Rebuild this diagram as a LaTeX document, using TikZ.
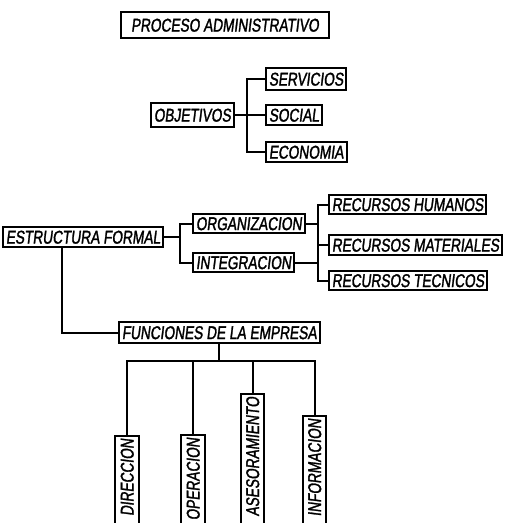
\documentclass[tikz,border=0pt]{standalone}
\usepackage{fontspec}
\newfontfamily\handfont{Liberation Sans}[FakeSlant=0.12,FakeStretch=0.74,FakeBold=1.5]
\usetikzlibrary{positioning}

\begin{document}
\begin{tikzpicture}[x=1pt, y=-1pt, line width=2pt,
  caja/.style={draw=black, line width=2pt, fill=white, font=\handfont\fontsize{18.5}{18.5}\selectfont, text height=13.2pt, text depth=0pt, inner xsep=3pt, inner ysep=3pt, anchor=west},
  vcaja/.style={caja, rotate=90, anchor=east, text width=140pt, align=right, inner ysep=5pt}]
\useasboundingbox (0,0) rectangle (506,523);
\clip (0,0) rectangle (506,523);
% ---- titulo
\node[caja, anchor=center, inner xsep=10pt, minimum height=26pt] (proc) at (225,25) {PROCESO ADMINISTRATIVO};
% ---- objetivos
\node[caja, minimum height=24pt] (obj) at (150,115) {OBJETIVOS};
\node[caja, minimum height=22pt] (serv) at (265,79) {SERVICIOS};
\node[caja] (soc) at (265,115) {SOCIAL};
\node[caja] (eco) at (265,152) {ECONOMIA};
\coordinate (jobj) at (247,115);
\draw (obj.east) -- (soc.west);
\draw (serv.west) -| (jobj) |- (eco.west);
% ---- estructura formal
\node[caja] (estr) at (2,237) {ESTRUCTURA FORMAL};
\node[caja] (org) at (192,223.5) {ORGANIZACION};
\node[caja] (integ) at (192,262.5) {INTEGRACION};
\coordinate (jestr) at (180,237);
\draw (estr.east) -- (jestr);
\draw (org.west) -| (jestr) |- (integ.west);
\node[caja] (rh) at (328,204.5) {RECURSOS HUMANOS};
\node[caja] (rm) at (328,245) {RECURSOS MATERIALES};
\node[caja] (rt) at (328,280.5) {RECURSOS TECNICOS};
\coordinate (jrec) at (318,245);
\draw (rh.west) -| (jrec) |- (rt.west);
\draw (jrec) -- (rm.west);
\draw (org.east) -- (org.east -| jrec);
\draw (integ.east) -- (integ.east -| jrec);
% ---- funciones
\node[caja, minimum height=21pt] (func) at (118,332.5) {FUNCIONES DE LA EMPRESA};
\draw ([xshift=-21pt]estr.south) |- (func.west);
\coordinate (bus) at (218,361);
\draw (func.south) -- (func.south |- bus);
\node[vcaja] (dir) at (127,435) {DIRECCION};
\node[vcaja] (oper) at (193,434) {OPERACION};
\node[vcaja] (ases) at (252.5,393) {ASESORAMIENTO};
\node[vcaja] (info) at (314.5,415) {INFORMACION};
\draw (dir.east) |- (bus) -| (info.east);
\draw (oper.east) -- (oper.east |- bus);
\draw (ases.east) -- (ases.east |- bus);
\end{tikzpicture}
\end{document}
